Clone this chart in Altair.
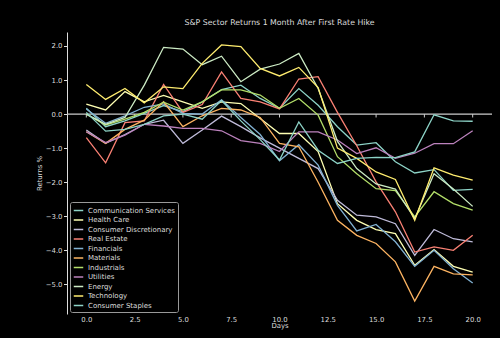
import altair as alt
import pandas as pd

days = list(range(21))

sectors = ["Communication Services", "Health Care", "Consumer Discretionary", "Real Estate",
           "Financials", "Materials", "Industrials", "Utilities", "Energy", "Technology",
           "Consumer Staples"]
colors = ["#8dd3c7", "#feffb3", "#bfbbd9", "#fa8174", "#81b1d2", "#fdb462", "#b3de69",
          "#bc82bd", "#ccebc4", "#ffed6f", "#8dd3c7"]

comm = [0.17, -0.37, -0.2, 0.02, 0.25, 0.07, 0.36, 0.72, 0.85, 0.46, 0.17, 0.75, 0.26, -0.37, -0.91, -0.84, -1.4, -1.73, -1.63, -2.24, -2.21]
health = [0.29, 0.12, 0.66, 0.36, 0.55, 0.36, 0.17, 0.36, 0.31, -0.13, -0.57, -0.57, -1.1, -2.63, -3.12, -3.39, -3.51, -4.44, -3.98, -4.47, -4.64]
discr = [-0.47, -0.86, -0.6, -0.3, -0.18, -0.86, -0.47, -0.06, -0.37, -0.7, -1.0, -1.3, -1.6, -2.53, -2.97, -3.02, -3.22, -4.15, -3.39, -3.66, -3.75]
real = [-0.69, -1.43, -0.25, -0.2, 0.87, 0.05, 0.28, 1.24, 0.46, 0.36, 0.15, 1.03, 1.1, 0.05, -0.93, -1.99, -2.87, -4.05, -3.9, -4.0, -3.56]
fin = [0.15, -0.27, -0.05, 0.2, 0.3, 0.02, 0.0, 0.42, -0.1, -0.6, -1.37, -0.9, -1.5, -2.68, -3.43, -3.24, -3.75, -4.47, -4.0, -4.54, -4.96]
mat = [-0.52, -0.86, -0.45, -0.18, 0.36, -0.37, -0.05, 0.17, 0.12, -0.1, -0.86, -0.96, -2.0, -3.12, -3.56, -3.8, -4.34, -5.49, -4.47, -4.69, -4.72]
ind = [0.0, -0.32, -0.15, 0.05, 0.35, 0.12, 0.36, 0.71, 0.71, 0.56, 0.17, 0.46, -0.03, -1.25, -1.75, -2.19, -2.25, -3.02, -2.28, -2.63, -2.82]
util = [-0.52, -0.84, -0.62, -0.3, -0.35, -0.42, -0.42, -0.49, -0.78, -0.86, -1.1, -0.52, -0.52, -0.76, -1.16, -0.99, -1.3, -1.15, -0.87, -0.87, -0.49]
energy = [0.0, -0.3, -0.1, 0.85, 1.96, 1.91, 1.45, 1.7, 0.95, 1.32, 1.47, 1.78, 0.75, -0.8, -1.6, -2.05, -2.2, -3.07, -1.75, -2.2, -2.71]
tech = [0.87, 0.43, 0.75, 0.33, 0.8, 0.75, 1.49, 2.03, 1.98, 1.34, 1.12, 1.37, 0.78, -1.0, -1.3, -1.7, -1.92, -3.12, -1.58, -1.79, -1.94]
staples = [0.05, -0.5, -0.45, -0.3, -0.05, 0.0, -0.15, 0.4, -0.2, -0.75, -1.35, -0.23, -1.06, -1.45, -1.3, -1.27, -1.28, -1.11, -0.02, -0.2, -0.21]

series = [comm, health, discr, real, fin, mat, ind, util, energy, tech, staples]

x_ticks = [0, 2.5, 5, 7.5, 10, 12.5, 15, 17.5, 20]
y_ticks = [2, 1, 0, -1, -2, -3, -4, -5]

rows = []
for name, vals in zip(sectors, series):
    for d, v in zip(days, vals):
        rows.append({"Day": d, "Return": v, "Sector": name})
df = pd.DataFrame(rows)

FONT = "DejaVu Sans"
TXT = "#dddddd"

xscale = alt.Scale(domain=[-1, 21], nice=False, zero=False)
yscale = alt.Scale(domain=[-5.87, 2.41], nice=False, zero=False)

lines = alt.Chart(df).mark_line(strokeWidth=1.3).encode(
    x=alt.X("Day:Q", scale=xscale,
            axis=alt.Axis(values=x_ticks, format=".1f", title="Days", domain=False,
                          ticks=False, grid=False, labelPadding=2, titlePadding=1,
                          labelColor=TXT, titleColor=TXT, labelFontSize=6.9,
                          titleFontSize=6.9, titleFontWeight="normal", labelFont=FONT,
                          titleFont=FONT)),
    y=alt.Y("Return:Q", scale=yscale,
            axis=alt.Axis(values=y_ticks, format=".1f", title="Returns %", domain=True,
                          domainColor=TXT, tickColor=TXT, tickSize=3.5, grid=False,
                          labelPadding=1.5, titlePadding=3, labelColor=TXT, titleColor=TXT,
                          labelFontSize=6.9, titleFontSize=6.9, titleFontWeight="normal",
                          labelFont=FONT, titleFont=FONT)),
    color=alt.Color("Sector:N", sort=sectors,
                    scale=alt.Scale(domain=sectors, range=colors),
                    legend=alt.Legend(orient="none", legendX=3, legendY=170, title=None,
                                      fillColor="black", strokeColor="#999999",
                                      padding=3, cornerRadius=2, labelColor=TXT,
                                      labelFontSize=7.0, labelFont=FONT,
                                      symbolType="stroke", symbolSize=90,
                                      symbolStrokeWidth=1.5, rowPadding=0.5,
                                      labelOffset=4)),
    detail="Sector:N",
)

zero_df = pd.DataFrame({"y": [0]})
zero = alt.Chart(zero_df).mark_rule(color="#cccccc", strokeWidth=1.2).encode(
    y=alt.Y("y:Q", scale=yscale)
)

tick_df = pd.DataFrame({"x": x_ticks, "y0": [0] * len(x_ticks), "y1": [-0.1] * len(x_ticks)})
ticks = alt.Chart(tick_df).mark_rule(color="#cccccc", strokeWidth=1).encode(
    x=alt.X("x:Q", scale=xscale),
    y=alt.Y("y0:Q", scale=yscale),
    y2="y1:Q",
)

chart = alt.layer(zero, ticks, lines).properties(
    width=425, height=282,
    background="black",
    padding={"left": 67, "top": 32, "right": 8, "bottom": 24},
    autosize=alt.AutoSizeParams(type="none"),
    title=alt.TitleParams("S&P Sector Returns 1 Month After First Rate Hike",
                          color=TXT, fontSize=7.8, font=FONT, fontWeight="normal",
                          anchor="middle", offset=5),
).configure_view(stroke=None)

chart.save("out.html", embed_options={"renderer": "svg", "actions": False})
